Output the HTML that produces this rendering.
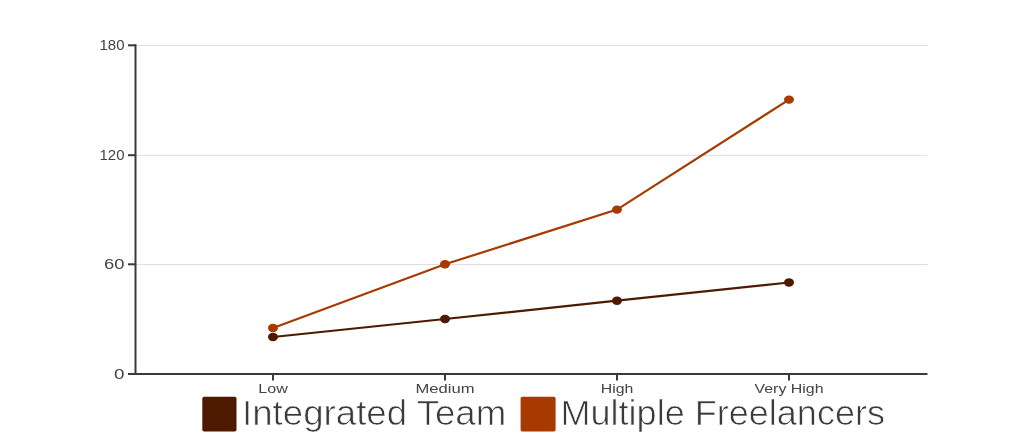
<!DOCTYPE html>
<html><head><meta charset="utf-8">
<style>
html,body{margin:0;padding:0;background:#fff;width:1024px;height:447px;overflow:hidden;}
svg{display:block;will-change:transform;font-family:"Liberation Sans",sans-serif;}
</style></head>
<body>
<svg width="1024" height="447" viewBox="0 0 1024 447" xmlns="http://www.w3.org/2000/svg">
  <!-- gridlines -->
  <g stroke="#dedede" stroke-width="1">
    <line x1="136" y1="45.5" x2="927.6" y2="45.5"/>
    <line x1="136" y1="155.3" x2="927.6" y2="155.3"/>
    <line x1="136" y1="264.5" x2="927.6" y2="264.5"/>
  </g>
  <!-- axes -->
  <g stroke="#3a3a3a" stroke-width="2" fill="none">
    <line x1="135.5" y1="44.3" x2="135.5" y2="375"/>
    <line x1="134.5" y1="374" x2="927.5" y2="374"/>
    <line x1="128" y1="45.3" x2="136" y2="45.3"/>
    <line x1="128" y1="155.2" x2="136" y2="155.2"/>
    <line x1="128" y1="264.3" x2="136" y2="264.3"/>
    <line x1="128" y1="374" x2="136" y2="374"/>
    <line x1="273" y1="374" x2="273" y2="380.5"/>
    <line x1="445" y1="374" x2="445" y2="380.5"/>
    <line x1="617" y1="374" x2="617" y2="380.5"/>
    <line x1="789" y1="374" x2="789" y2="380.5"/>
  </g>
  <!-- y labels -->
  <g fill="#444" font-size="14">
    <text x="99.5" y="49.8" textLength="25" lengthAdjust="spacingAndGlyphs">180</text>
    <text x="99.5" y="159.8" textLength="25" lengthAdjust="spacingAndGlyphs">120</text>
    <text x="104" y="268.9" textLength="20.5" lengthAdjust="spacingAndGlyphs">60</text>
    <text x="114" y="378.7" textLength="10.5" lengthAdjust="spacingAndGlyphs">0</text>
  </g>
  <!-- x labels -->
  <g fill="#444" font-size="13.2" text-anchor="middle">
    <text x="273" y="393.1" textLength="29.5" lengthAdjust="spacingAndGlyphs">Low</text>
    <text x="445" y="393.1" textLength="59" lengthAdjust="spacingAndGlyphs">Medium</text>
    <text x="617" y="393.1" textLength="32.5" lengthAdjust="spacingAndGlyphs">High</text>
    <text x="789" y="393.1" textLength="69" lengthAdjust="spacingAndGlyphs">Very High</text>
  </g>
  <!-- series -->
  <polyline points="273,337 445,319 617,300.7 789,282.5" fill="none" stroke="#4d1a00" stroke-width="2.2"/>
  <polyline points="273,328 445,264.3 617,209.6 789,99.6" fill="none" stroke="#a63a00" stroke-width="2.2"/>
  <g fill="#4d1a00">
    <ellipse cx="273" cy="337" rx="5" ry="4.2"/><ellipse cx="445" cy="319" rx="5" ry="4.2"/><ellipse cx="617" cy="300.7" rx="5" ry="4.2"/><ellipse cx="789" cy="282.5" rx="5" ry="4.2"/>
  </g>
  <g fill="#a63a00">
    <ellipse cx="273" cy="328" rx="5" ry="4.2"/><ellipse cx="445" cy="264.3" rx="5" ry="4.2"/><ellipse cx="617" cy="209.6" rx="5" ry="4.2"/><ellipse cx="789" cy="99.6" rx="5" ry="4.2"/>
  </g>
  <!-- legend -->
  <rect x="202.3" y="396.8" width="34.2" height="34.7" rx="1.8" fill="#4d1a00"/>
  <text x="242" y="424.9" font-size="35" fill="#3a3a3a" stroke="#fff" stroke-width="0.7" textLength="264.3" lengthAdjust="spacingAndGlyphs">Integrated Team</text>
  <rect x="520.6" y="396.8" width="35" height="34.7" rx="1.8" fill="#a63a00"/>
  <text x="560.5" y="424.9" font-size="35" fill="#3a3a3a" stroke="#fff" stroke-width="0.7" textLength="324.5" lengthAdjust="spacingAndGlyphs">Multiple Freelancers</text>
</svg>
</body></html>
